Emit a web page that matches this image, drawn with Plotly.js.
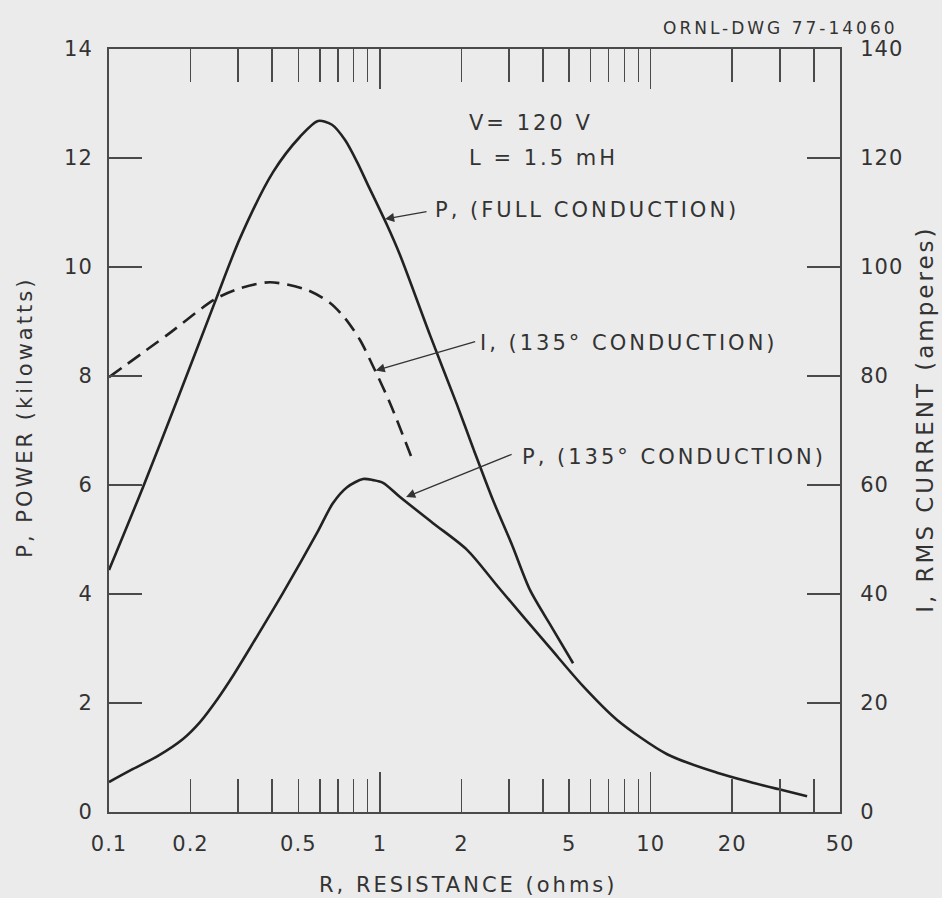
<!DOCTYPE html>
<html>
<head>
<meta charset="utf-8">
<script src="https://cdn.plot.ly/plotly-3.0.1.min.js"></script>
<style>
  html, body { margin: 0; padding: 0; background: #ebebeb; }
  #chart { width: 942px; height: 898px; }
  .annotation-text { letter-spacing: 3px; }
  .xtick text, .ytick text, .y2tick text { letter-spacing: 1px; }
</style>
</head>
<body>
<div id="chart"></div>
<script>
// Resistance (ohms) and power (kW) for full conduction
const rFull = [0.1, 0.1335, 0.1799, 0.2462, 0.3047, 0.4033, 0.5073, 0.5911, 0.666, 0.744, 0.8236, 0.897, 1.063, 1.187, 1.532, 1.928, 2.209, 2.618, 3.077, 3.587, 4.325, 5.17];
const pFull = [4.44, 5.96, 7.60, 9.36, 10.53, 11.74, 12.39, 12.68, 12.61, 12.33, 11.93, 11.54, 10.77, 10.22, 8.75, 7.47, 6.68, 5.72, 4.90, 4.07, 3.38, 2.73];

// RMS current (A) for 135 degree conduction
const rCurr = [0.1, 0.1637, 0.2462, 0.3047, 0.3930, 0.5385, 0.6549, 0.7439, 0.845, 0.9439, 1.0906, 1.315];
const iCurr = [79.8, 87.5, 94.1, 96.1, 97.2, 95.8, 93.4, 90.6, 86.6, 81.8, 75.0, 64.8];

// Power (kW) for 135 degree conduction
const r135 = [0.1, 0.1227, 0.1517, 0.1876, 0.2168, 0.2505, 0.2870, 0.3317, 0.4390, 0.5862, 0.6718, 0.7568, 0.8671, 0.9439, 1.0276, 1.187, 1.572, 2.099, 2.755, 4.251, 5.627, 7.516, 11.50, 17.59, 23.28, 29.54, 37.8];
const p135 = [0.55, 0.79, 1.03, 1.34, 1.65, 2.06, 2.50, 3.01, 4.02, 5.12, 5.67, 5.96, 6.11, 6.09, 6.04, 5.78, 5.30, 4.81, 4.11, 3.01, 2.31, 1.69, 1.06, 0.72, 0.55, 0.42, 0.29];

// Axis ticks
const xLabelVals = [0.1, 0.2, 0.5, 1, 2, 5, 10, 20, 50];
const xLabelText = ['0.1', '0.2', '0.5', '1', '2', '5', '10', '20', '50'];
const xMinorVals = [0.3, 0.4, 0.6, 0.7, 0.8, 0.9, 3, 4, 6, 7, 8, 9, 30, 40];
const xLongVals = [1, 10];
const yPowerVals = [0, 2, 4, 6, 8, 10, 12, 14];
const yCurrentVals = [0, 20, 40, 60, 80, 100, 120, 140];

const ink = '#222222';
const frame = '#4a4a4a';
const font = 'DejaVu Sans, Verdana, sans-serif';

const traces = [
  { x: rFull, y: pFull, xaxis: 'x', yaxis: 'y', mode: 'lines',
    line: { color: ink, width: 2.6, shape: 'spline', smoothing: 0.8 }, hoverinfo: 'skip' },
  { x: rCurr, y: iCurr, xaxis: 'x', yaxis: 'y2', mode: 'lines',
    line: { color: ink, width: 2.6, dash: '15px,8px', shape: 'spline', smoothing: 0.8 }, hoverinfo: 'skip' },
  { x: r135, y: p135, xaxis: 'x2', yaxis: 'y', mode: 'lines',
    line: { color: ink, width: 2.6, shape: 'spline', smoothing: 0.8 }, hoverinfo: 'skip' }
];

const xRange = [Math.log10(0.1), Math.log10(50)];
const txt = (t, x, y, size, extra) => Object.assign({
  text: t, xref: 'paper', yref: 'paper', x: x, y: y, xanchor: 'left', yanchor: 'middle',
  showarrow: false, font: { family: font, size: size, color: '#333' }
}, extra || {});
const arrow = (x, y, ax, ay) => ({
  text: ' ', xref: 'x', yref: 'y', x: x, y: y, ax: ax, ay: ay, showarrow: true,
  arrowhead: 2, arrowsize: 1.4, arrowwidth: 1.3, arrowcolor: '#333', standoff: 0,
  font: { size: 2 }
});

const layout = {
  width: 942, height: 898, autosize: false,
  paper_bgcolor: '#ebebeb', plot_bgcolor: '#ebebeb',
  margin: { l: 109, r: 102, t: 49, b: 86 },
  showlegend: false,
  font: { family: font, color: '#333' },
  xaxis: {
    type: 'log', range: xRange, tickmode: 'array', tickvals: xLabelVals, ticktext: xLabelText,
    ticks: 'inside', ticklen: 33, tickwidth: 1.5, tickcolor: frame,
    showline: true, linecolor: frame, linewidth: 2, mirror: 'ticks',
    showgrid: false, zeroline: false, tickfont: { size: 21, color: '#333' },
    ticklabelstandoff: 12,
    minor: { tickmode: 'array', tickvals: xMinorVals, ticks: 'inside', ticklen: 33,
             tickwidth: 1.5, tickcolor: frame, showgrid: false }
  },
  xaxis2: {
    type: 'log', range: xRange, overlaying: 'x', anchor: 'y', side: 'bottom',
    tickmode: 'array', tickvals: xLongVals, ticks: 'inside', ticklen: 40, tickwidth: 1.5,
    tickcolor: frame, mirror: 'ticks', showticklabels: false, showgrid: false,
    showline: false, zeroline: false
  },
  yaxis: {
    range: [0, 14], tickmode: 'array', tickvals: yPowerVals,
    ticks: 'inside', ticklen: 33, tickwidth: 1.5, tickcolor: frame,
    showline: true, linecolor: frame, linewidth: 2, showgrid: false, zeroline: false,
    tickfont: { size: 21, color: '#333' }, ticklabelstandoff: 10
  },
  yaxis2: {
    range: [0, 140], overlaying: 'y', side: 'right', anchor: 'x', tickmode: 'array',
    tickvals: yCurrentVals, ticks: 'inside', ticklen: 33, tickwidth: 1.5, tickcolor: frame,
    showline: true, linecolor: frame, linewidth: 2, showgrid: false, zeroline: false,
    tickfont: { size: 21, color: '#333' }, ticklabelstandoff: 14
  },
  annotations: [
    txt('ORNL-DWG 77-14060', 1.082, 1.027, 17, { xanchor: 'right' }),
    txt('V= 120 V', 0.4897, 0.903, 21),
    txt('L = 1.5 mH', 0.4897, 0.857, 21),
    txt('P, (FULL CONDUCTION)', 0.4432, 0.789, 21),
    txt('I, (135° CONDUCTION)', 0.5048, 0.6147, 21),
    txt('P, (135° CONDUCTION)', 0.5622, 0.4653, 21),
    txt('R, RESISTANCE (ohms)', 0.491, -0.0957, 21, { xanchor: 'center' }),
    txt('P, POWER (kilowatts)', -0.115, 0.518, 21, { xanchor: 'center', textangle: -90 }),
    txt('I, RMS CURRENT (amperes)', 1.116, 0.515, 23, { xanchor: 'center', textangle: -90 }),
    arrow(Math.log10(1.045), 10.88, 45, -8),
    arrow(Math.log10(0.965), 8.1, 103, -30),
    arrow(Math.log10(1.25), 5.78, 109, -44)
  ]
};

Plotly.newPlot('chart', traces, layout, { staticPlot: true, displayModeBar: false });
</script>
</body>
</html>
